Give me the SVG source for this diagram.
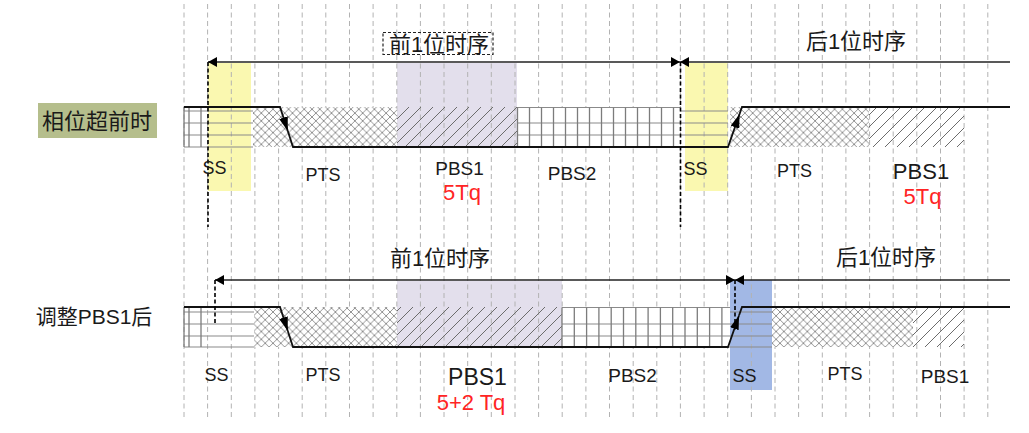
<svg xmlns="http://www.w3.org/2000/svg" width="1029" height="433" viewBox="0 0 1029 433">
<style>
.grid{fill:none;stroke:#b2b2b2;stroke-width:1;stroke-dasharray:5 3.5}
.hl{fill:none;stroke:#8a8a8a;stroke-width:1.2}
.vl{fill:none;stroke:#7c7c7c;stroke-width:1.3}
.sig{fill:none;stroke:#111;stroke-width:1.8}
.conn{fill:none;stroke:#222;stroke-width:1.5}
.mark{fill:none;stroke:#000;stroke-width:1.6;stroke-dasharray:4 2.5}
.lat{font-family:"Liberation Sans",Arial,sans-serif;fill:#1a1a1a;text-anchor:middle}
.cjk{font-family:"Liberation Sans","Noto Sans CJK SC",sans-serif;fill:#1a1a1a;text-anchor:middle}
.red{font-family:"Liberation Sans",Arial,sans-serif;fill:#ff2424;text-anchor:middle;font-size:22px}
</style>
<defs>
<pattern id="xh" width="7.8" height="7.8" patternUnits="userSpaceOnUse">
<path d="M0,0 L7.8,7.8 M7.8,0 L0,7.8" stroke="#858585" stroke-width="0.9" fill="none"/>
</pattern>
<pattern id="dh" width="12" height="12" patternUnits="userSpaceOnUse">
<path d="M0,12 L12,0 M-6,6 L6,-6 M6,18 L18,6" stroke="#6c6c6c" stroke-width="1" fill="none"/>
</pattern>
<marker id="ah" markerUnits="userSpaceOnUse" markerWidth="9" markerHeight="10" refX="9" refY="5" orient="auto-start-reverse">
<path d="M0,0 L9,5 L0,10 z" fill="#000"/>
</marker>
<marker id="sa" markerUnits="userSpaceOnUse" markerWidth="14" markerHeight="9" refX="14" refY="4.5" orient="auto">
<path d="M0,0 L14,4.5 L0,9 z" fill="#000"/>
</marker>
</defs>
<rect width="1029" height="433" fill="#fff"/>

<g id="highlights">
<rect x="208" y="63" width="43" height="128" fill="#faf8b0"/>
<rect x="685" y="63" width="43" height="128" fill="#faf8b0"/>
<rect x="397" y="63" width="120" height="84" fill="#e3dfec"/>
<rect x="397" y="281" width="165" height="66" fill="#e3dfec"/>
<rect x="730" y="280" width="42" height="110" fill="#a2b8e5"/>
</g>

<g id="grid">
<path class="grid" d="M184,4V418 M207.6,4V418 M231.3,4V418 M254.9,4V418 M278.6,4V418 M302.2,4V418 M325.8,4V418 M349.5,4V418 M373.1,4V418 M396.8,4V418 M420.4,4V418 M444,4V418 M467.7,4V418 M491.3,4V418 M515,4V418 M538.6,4V418 M562.2,4V418 M585.9,4V418 M609.5,4V418 M633.2,4V418 M656.8,4V418 M680.4,4V418 M704.1,4V418 M727.7,4V418 M751.4,4V418 M775,4V418 M798.6,4V418 M822.3,4V418 M845.9,4V418 M869.6,4V418 M893.2,4V418 M916.8,4V418 M940.5,4V418 M964.1,4V418 M987.8,4V418"/>
</g>

<g id="label-lead">
<rect x="38" y="103" width="119" height="35" fill="#b5be8c"/>
<text class="cjk" x="97" y="128.5" font-size="22">相位超前时</text>
</g>
<g id="label-adjust">
<text class="cjk" x="94" y="324" font-size="21">调整PBS1后</text>
</g>

<g id="row1">
<rect x="253" y="107" width="144" height="40" fill="#fff"/>
<rect x="253" y="107" width="144" height="40" fill="url(#xh)"/>
<rect x="397" y="107" width="120" height="40" fill="url(#dh)"/>
<rect x="517" y="107" width="163" height="40" fill="#fff"/>
<rect x="730" y="107" width="139" height="40" fill="#fff"/>
<rect x="730" y="107" width="139" height="40" fill="url(#xh)"/>
<rect x="869" y="107" width="95" height="40" fill="url(#dh)"/>
<path class="hl" d="M184,111H253 M184,123H253 M184,135H253 M184,147H253 M517,107.5H680 M680,111H728 M517,123H728 M517,135H728"/>
<path class="vl" d="M184,107V147 M189,107V147 M201,107V147 M517.5,107.5V147 M529.5,107.5V147 M541.5,107.5V147 M553.5,107.5V147 M565.5,107.5V147 M577.5,107.5V147 M589.5,107.5V147 M601.5,107.5V147 M613.5,107.5V147 M625.5,107.5V147 M637.5,107.5V147 M649.5,107.5V147 M661.5,107.5V147 M673.5,107.5V147"/>
<path class="sig" d="M184,107H280 L287.8,131" marker-end="url(#sa)"/>
<path class="sig" d="M287.8,131 L293,147 H728 L739.6,114" marker-end="url(#sa)"/>
<path class="sig" d="M739.6,114 L742,107 H1010"/>
</g>

<g id="row2">
<rect x="254" y="307" width="143" height="40" fill="#fff"/>
<rect x="254" y="307" width="143" height="40" fill="url(#xh)"/>
<rect x="397" y="307" width="165" height="40" fill="url(#dh)"/>
<rect x="562" y="307" width="168" height="40" fill="#fff"/>
<rect x="772" y="307" width="141" height="40" fill="#fff"/>
<rect x="772" y="307" width="141" height="40" fill="url(#xh)"/>
<rect x="913" y="307" width="51" height="40" fill="url(#dh)"/>
<path class="hl" d="M184,312H254 M184,324H254 M184,336H254 M184,347H254 M562,307.5H730 M730,312H772 M562,324H772 M562,336H772 M728,347H772"/>
<path class="vl" d="M184,307V347 M189,307V347 M201,307V347 M562,307.5V347 M574.3,307.5V347 M586.6,307.5V347 M598.9,307.5V347 M611.2,307.5V347 M623.5,307.5V347 M635.8,307.5V347 M648.1,307.5V347 M660.4,307.5V347 M672.7,307.5V347 M685,307.5V347 M697.3,307.5V347 M709.6,307.5V347 M721.9,307.5V347"/>
<path class="sig" d="M184,307H280 L287.8,331" marker-end="url(#sa)"/>
<path class="sig" d="M287.8,331 L293,347 H728 L739,315.5" marker-end="url(#sa)"/>
<path class="sig" d="M739,315.5 L742,307 H1010"/>
</g>

<g id="connectors">
<path class="conn" d="M208,62H680" marker-start="url(#ah)" marker-end="url(#ah)"/>
<path class="conn" d="M680,62H1010" marker-start="url(#ah)"/>
<path class="conn" d="M215,280H735" marker-start="url(#ah)" marker-end="url(#ah)"/>
<path class="conn" d="M735,280H1010" marker-start="url(#ah)"/>
<path class="mark" d="M208,62V227 M680.5,62V227 M215,280V325 M735,280V330"/>
</g>

<g id="timing-labels">
<rect x="383" y="32.5" width="110" height="22" fill="none" stroke="#222" stroke-width="1.2" stroke-dasharray="3 2"/>
<text class="cjk" x="439" y="52" font-size="22">前1位时序</text>
<text class="cjk" x="856" y="49" font-size="22">后1位时序</text>
<text class="cjk" x="440" y="266" font-size="22">前1位时序</text>
<text class="cjk" x="886" y="265" font-size="22">后1位时序</text>
</g>

<g id="segment-labels">
<text class="lat" x="214.5" y="174" font-size="18">SS</text>
<text class="lat" x="323" y="181" font-size="18">PTS</text>
<text class="lat" x="459.5" y="175" font-size="19">PBS1</text>
<text class="red" x="462" y="200">5Tq</text>
<text class="lat" x="572" y="180" font-size="19">PBS2</text>
<text class="lat" x="695.5" y="175" font-size="18">SS</text>
<text class="lat" x="794.5" y="177" font-size="18">PTS</text>
<text class="lat" x="921" y="179" font-size="22">PBS1</text>
<text class="red" x="922.5" y="204" font-size="21">5Tq</text>
<text class="lat" x="216.5" y="381" font-size="18">SS</text>
<text class="lat" x="323" y="381" font-size="18">PTS</text>
<text class="lat" x="477.5" y="385" font-size="23">PBS1</text>
<text class="red" x="471" y="410" font-size="23">5+2 Tq</text>
<text class="lat" x="632.5" y="382" font-size="19">PBS2</text>
<text class="lat" x="744.5" y="382" font-size="18">SS</text>
<text class="lat" x="845" y="380" font-size="18">PTS</text>
<text class="lat" x="945" y="383" font-size="19">PBS1</text>
</g>
</svg>
